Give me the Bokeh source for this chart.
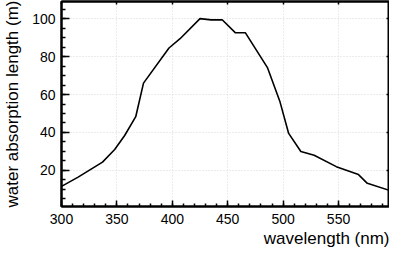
from bokeh.plotting import figure
from bokeh.models import Range1d, LinearAxis, SingleIntervalTicker, Title, CustomLabelingPolicy
from bokeh.embed import file_html
from bokeh.resources import INLINE

wavelength = [300, 315, 337, 348, 357, 367, 374, 397, 407, 425, 435, 445, 457, 466, 486, 497, 505, 516, 528, 548, 568, 576, 597]
absorption_length = [11.6, 16.5, 24.4, 31.0, 38.4, 48.3, 66.0, 84.5, 89.4, 100.0, 99.3, 99.4, 92.5, 92.5, 74.0, 56.5, 39.5, 30.0, 28.0, 22.0, 17.8, 13.2, 9.3]
y_ticks = [20, 40, 60, 80, 100]

FONT = "Liberation Sans"
X_START, X_END = 300, 596
Y_START, Y_END = 1, 109

p = figure(width=389, height=247, output_backend="svg", toolbar_location=None,
           x_range=Range1d(X_START, X_END), y_range=Range1d(Y_START, Y_END),
           min_border_left=0, min_border_right=0, min_border_top=1, min_border_bottom=0)

p.line(wavelength, absorption_length, line_color="black", line_width=1.6)

xt = SingleIntervalTicker(interval=50, num_minor_ticks=5)
yt = SingleIntervalTicker(interval=20, num_minor_ticks=4)
p.xaxis.ticker = xt
p.yaxis.ticker = yt
p.xgrid.ticker = xt
p.ygrid.ticker = yt

for ax in [p.xaxis[0], p.yaxis[0]]:
    ax.major_tick_out = 0
    ax.minor_tick_out = 0
    ax.axis_line_width = 2
    ax.major_tick_line_width = 1.5
    ax.minor_tick_line_width = 1.5
    ax.major_label_text_font = FONT
    ax.major_label_text_font_size = "14px"
    ax.major_label_text_color = "black"
    ax.axis_label_text_font = FONT
    ax.axis_label_text_font_size = "17px"
    ax.axis_label_text_font_style = "normal"
    ax.axis_label_text_color = "black"

p.yaxis.major_tick_in = 8
p.yaxis.minor_tick_in = 4
p.xaxis.major_tick_in = 6
p.xaxis.minor_tick_in = 3

p.yaxis.axis_label = "water absorption length (m)"
p.yaxis.major_label_standoff = 6
p.yaxis.axis_label_standoff = 7
p.xaxis.major_label_standoff = 7

t = Title(text="wavelength (nm)", align="right", text_font=FONT, text_font_size="17px",
          text_font_style="normal", text_color="black", standoff=0)
p.add_layout(t, "below")

# mirrored ticks on top (no labels)
top = LinearAxis(ticker=xt, major_tick_in=3, major_tick_out=0, minor_tick_in=0, minor_tick_out=0,
                 minor_tick_line_color=None, axis_line_width=2, major_tick_line_width=1.5,
                 major_label_policy=CustomLabelingPolicy(code="return new Set()"),
                 major_label_text_font_size="0px", major_label_standoff=0)
p.add_layout(top, "above")

# mirrored ticks on right edge (half of a dash marker shows inside the frame)
p.scatter([X_END] * len(y_ticks), y_ticks, marker="dash", size=6, line_color="black", line_width=1.5)

for g in [p.xgrid[0], p.ygrid[0]]:
    g.grid_line_color = "#d9d9d9"
    g.grid_line_dash = "1 2"
    g.grid_line_width = 1

p.outline_line_color = "black"
p.outline_line_width = 2
p.background_fill_color = "white"
p.border_fill_color = "white"

open("out.html", "w").write(file_html(p, INLINE))
